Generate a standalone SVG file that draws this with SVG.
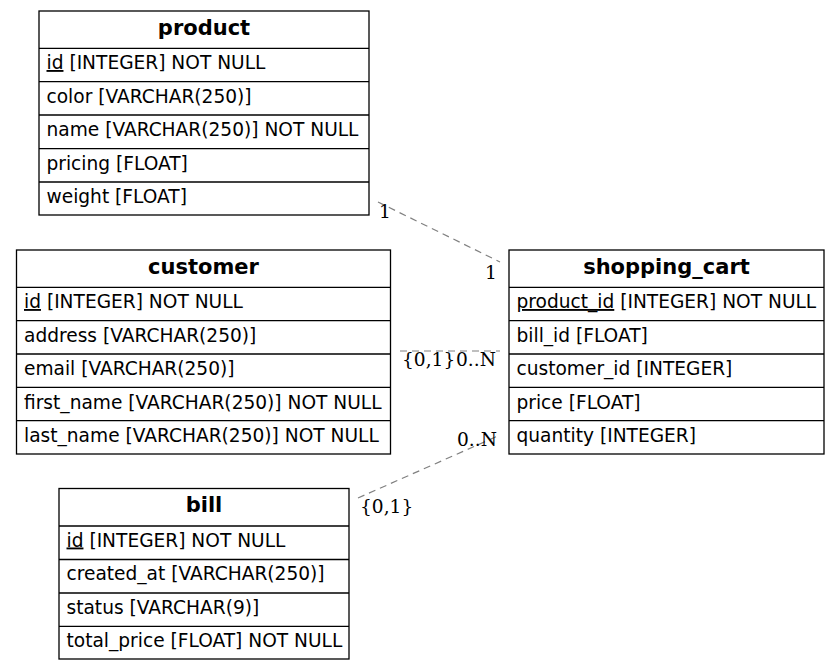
<svg xmlns="http://www.w3.org/2000/svg" width="840" height="670" viewBox="0 0 840 670">
<style>
.box{fill:#fff;stroke:#000;stroke-width:1.3}
.sep{stroke:#000;stroke-width:1.3}
.hd{font-family:"DejaVu Sans",sans-serif;font-weight:bold;font-size:21px;text-anchor:middle;fill:#000}
.f{font-family:"DejaVu Sans",sans-serif;font-size:18.6px;fill:#000}
.u{text-decoration:underline}
.e{fill:none;stroke:#808080;stroke-width:1.2;stroke-dasharray:7,5}
.lb{font-family:"DejaVu Serif",serif;font-size:18.6px;fill:#000}
</style>
<rect width="840" height="670" fill="#fff"/>
<g id="connectors">
<line class="e" x1="378" y1="202" x2="500" y2="262"/>
<line class="e" x1="400" y1="351" x2="500" y2="351"/>
<line class="e" x1="358" y1="498" x2="500" y2="435"/>
<text class="lb" x="379" y="218">1</text>
<text class="lb" x="485" y="279">1</text>
<text class="lb" x="402" y="366">{0,1}</text>
<text class="lb" x="456" y="366">0..N</text>
<text class="lb" x="457" y="446">0..N</text>
<text class="lb" x="360" y="513">{0,1}</text>
</g>
<g id="product">
<rect class="box" x="39" y="11" width="330" height="204"/>
<line class="sep" x1="39" y1="48.3" x2="369" y2="48.3"/>
<line class="sep" x1="39" y1="81.7" x2="369" y2="81.7"/>
<line class="sep" x1="39" y1="115" x2="369" y2="115"/>
<line class="sep" x1="39" y1="148.7" x2="369" y2="148.7"/>
<line class="sep" x1="39" y1="182" x2="369" y2="182"/>
<text class="hd" x="204" y="35">product</text>
<text class="f" x="46.5" y="69"><tspan class="u">id</tspan> [INTEGER] NOT NULL</text>
<text class="f" x="46.5" y="102.5">color [VARCHAR(250)]</text>
<text class="f" x="46.5" y="136">name [VARCHAR(250)] NOT NULL</text>
<text class="f" x="46.5" y="169.5">pricing [FLOAT]</text>
<text class="f" x="46.5" y="203">weight [FLOAT]</text>
</g>
<g id="customer">
<rect class="box" x="16.5" y="250" width="374" height="204"/>
<line class="sep" x1="16.5" y1="287.3" x2="390.5" y2="287.3"/>
<line class="sep" x1="16.5" y1="320.7" x2="390.5" y2="320.7"/>
<line class="sep" x1="16.5" y1="354" x2="390.5" y2="354"/>
<line class="sep" x1="16.5" y1="387.3" x2="390.5" y2="387.3"/>
<line class="sep" x1="16.5" y1="420.7" x2="390.5" y2="420.7"/>
<text class="hd" x="203.5" y="274">customer</text>
<text class="f" x="24" y="308"><tspan class="u">id</tspan> [INTEGER] NOT NULL</text>
<text class="f" x="24" y="341.5">address [VARCHAR(250)]</text>
<text class="f" x="24" y="375">email [VARCHAR(250)]</text>
<text class="f" x="24" y="408.5">first_name [VARCHAR(250)] NOT NULL</text>
<text class="f" x="24" y="442">last_name [VARCHAR(250)] NOT NULL</text>
</g>
<g id="shopping_cart">
<rect class="box" x="509" y="250" width="315" height="204"/>
<line class="sep" x1="509" y1="287.3" x2="824" y2="287.3"/>
<line class="sep" x1="509" y1="320.7" x2="824" y2="320.7"/>
<line class="sep" x1="509" y1="354" x2="824" y2="354"/>
<line class="sep" x1="509" y1="387.3" x2="824" y2="387.3"/>
<line class="sep" x1="509" y1="420.7" x2="824" y2="420.7"/>
<text class="hd" x="666.5" y="274">shopping_cart</text>
<text class="f" x="516.5" y="308"><tspan class="u">product_id</tspan> [INTEGER] NOT NULL</text>
<text class="f" x="516.5" y="341.5">bill_id [FLOAT]</text>
<text class="f" x="516.5" y="375">customer_id [INTEGER]</text>
<text class="f" x="516.5" y="408.5">price [FLOAT]</text>
<text class="f" x="516.5" y="442">quantity [INTEGER]</text>
</g>
<g id="bill">
<rect class="box" x="59" y="488.5" width="290" height="170.5"/>
<line class="sep" x1="59" y1="526" x2="349" y2="526"/>
<line class="sep" x1="59" y1="559.5" x2="349" y2="559.5"/>
<line class="sep" x1="59" y1="593" x2="349" y2="593"/>
<line class="sep" x1="59" y1="626.3" x2="349" y2="626.3"/>
<text class="hd" x="204" y="512">bill</text>
<text class="f" x="66.5" y="546.5"><tspan class="u">id</tspan> [INTEGER] NOT NULL</text>
<text class="f" x="66.5" y="580">created_at [VARCHAR(250)]</text>
<text class="f" x="66.5" y="613.5">status [VARCHAR(9)]</text>
<text class="f" x="66.5" y="647">total_price [FLOAT] NOT NULL</text>
</g>
</svg>
